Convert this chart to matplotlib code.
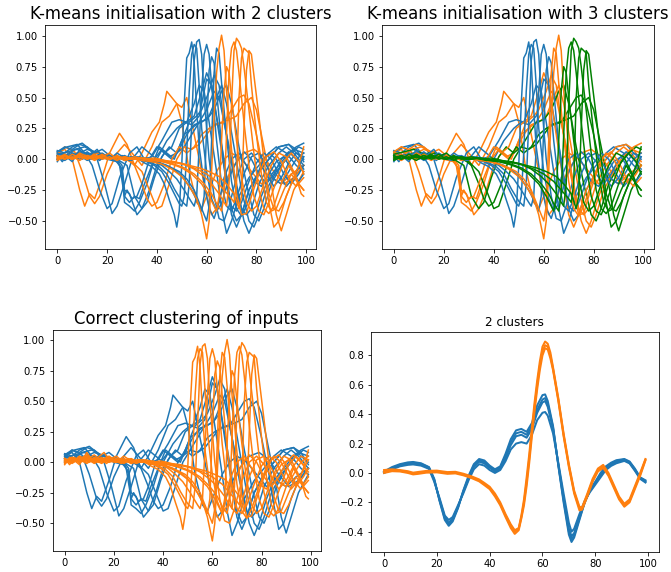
"""K-means clustering of shifted waveforms: two initialisations, the true
labels and the resulting 2-cluster barycentres."""

import matplotlib

matplotlib.use("Agg")
import matplotlib.pyplot as plt  # noqa: E402

# ---- input waveforms, (x, y) keypoints ----
# type A (first dip, then a medium peak)
wave_a = [
    [(0, 0.05), (3, 0.08), (6, 0.0), (9, -0.25), (11, -0.38), (13, -0.28), (15, -0.32), (18, -0.15),
     (21, 0.05), (25, 0.21), (28, 0.12), (31, -0.05), (34, 0.05), (38, 0.22), (41, 0.3), (43, 0.45),
     (44, 0.55), (46, 0.5), (48, 0.45), (50, 0.3), (53, -0.1), (56, -0.35), (58, -0.4), (61, -0.25),
     (64, -0.1), (67, 0.0), (70, 0.05), (74, 0.0), (78, -0.1), (82, -0.2), (86, -0.15), (90, -0.2),
     (94, -0.12), (99, -0.05)],
    [(0, 0.03), (3, 0.1), (7, 0.06), (10, -0.1), (13, -0.3), (15, -0.36), (17, -0.3), (20, -0.12),
     (24, 0.05), (27, 0.12), (30, 0.05), (34, -0.05), (38, 0.1), (42, 0.3), (45, 0.35), (48, 0.45),
     (50, 0.42), (52, 0.5), (54, 0.3), (57, 0.0), (60, -0.3), (62, -0.45), (64, -0.4), (67, -0.2),
     (71, -0.05), (75, 0.05), (79, 0.08), (83, 0.02), (87, -0.1), (91, -0.2), (95, -0.15), (99, -0.05)],
    [(0, 0.06), (4, 0.1), (8, 0.12), (11, 0.05), (14, -0.05), (17, -0.25), (20, -0.4), (22, -0.36),
     (25, -0.15), (29, 0.05), (32, 0.1), (35, 0.0), (38, 0.02), (42, 0.15), (46, 0.3), (49, 0.32),
     (52, 0.3), (55, 0.45), (57, 0.6), (59, 0.55), (61, 0.3), (64, -0.1), (66, -0.4), (68, -0.6),
     (70, -0.5), (73, -0.3), (77, -0.15), (81, -0.05), (85, 0.05), (88, 0.1), (92, 0.05), (96, -0.05),
     (99, -0.1)],
    [(0, 0.07), (3, 0.05), (6, 0.1), (10, 0.13), (13, 0.08), (16, 0.0), (19, -0.2), (22, -0.44),
     (24, -0.38), (27, -0.2), (30, 0.0), (34, 0.1), (37, 0.05), (40, 0.0), (44, 0.15), (48, 0.25),
     (51, 0.3), (54, 0.28), (57, 0.35), (60, 0.65), (62, 0.6), (64, 0.35), (67, 0.0), (70, -0.4),
     (72, -0.5), (74, -0.45), (77, -0.25), (81, -0.1), (85, 0.0), (89, 0.1), (93, 0.12), (96, 0.05),
     (99, 0.0)],
    [(0, 0.05), (3, 0.02), (7, 0.08), (11, 0.1), (15, 0.06), (19, 0.02), (23, 0.0), (25, -0.05),
     (27, -0.3), (29, -0.35), (31, -0.3), (33, -0.32), (35, -0.2), (38, -0.05), (41, 0.1), (44, 0.05),
     (47, 0.0), (50, 0.15), (53, 0.3), (56, 0.35), (58, 0.4), (61, 0.55), (63, 0.68), (65, 0.6),
     (67, 0.3), (70, 0.0), (73, -0.3), (75, -0.5), (77, -0.6), (79, -0.5), (82, -0.3), (85, -0.15),
     (89, -0.05), (93, 0.05), (96, 0.1), (99, 0.13)],
    [(0, 0.03), (4, 0.06), (8, 0.04), (12, 0.08), (16, 0.05), (20, 0.0), (24, -0.02), (26, -0.08),
     (27, -0.35), (29, -0.38), (31, -0.42), (33, -0.35), (36, -0.2), (39, 0.0), (42, 0.08), (45, 0.02),
     (48, 0.05), (51, 0.2), (54, 0.25), (57, 0.3), (60, 0.4), (63, 0.55), (65, 0.5), (68, 0.2),
     (71, -0.15), (74, -0.4), (76, -0.45), (78, -0.4), (81, -0.2), (85, -0.05), (89, 0.05), (92, 0.1),
     (95, 0.05), (99, -0.05)],
    [(0, 0.0), (4, 0.04), (8, 0.02), (12, 0.05), (16, 0.03), (20, 0.02), (24, 0.0), (26, -0.05),
     (27, -0.25), (29, -0.28), (32, -0.45), (34, -0.4), (37, -0.25), (40, -0.05), (43, 0.05), (46, 0.0),
     (49, 0.08), (52, 0.2), (55, 0.28), (58, 0.3), (61, 0.35), (64, 0.5), (66, 0.6), (68, 0.45),
     (71, 0.1), (74, -0.25), (77, -0.5), (79, -0.55), (81, -0.45), (84, -0.25), (88, -0.1), (92, 0.0),
     (95, 0.08), (99, 0.05)],
    [(0, 0.04), (4, 0.06), (8, 0.08), (12, 0.04), (16, 0.06), (20, 0.02), (24, 0.0), (28, -0.05),
     (31, -0.3), (34, -0.4), (36, -0.35), (39, -0.15), (42, 0.02), (45, 0.1), (48, 0.05), (51, 0.1),
     (54, 0.2), (57, 0.3), (60, 0.32), (63, 0.4), (66, 0.55), (68, 0.6), (70, 0.45), (73, 0.1),
     (76, -0.2), (79, -0.45), (81, -0.5), (83, -0.4), (86, -0.2), (90, -0.05), (94, 0.05), (97, 0.1),
     (99, 0.08)],
    [(0, 0.02), (4, 0.03), (8, 0.05), (12, 0.03), (16, 0.05), (20, 0.03), (24, 0.02), (28, 0.0),
     (31, -0.05), (34, -0.2), (36, -0.32), (38, -0.38), (40, -0.35), (43, -0.2), (46, 0.0), (49, 0.1),
     (52, 0.05), (55, 0.1), (58, 0.2), (61, 0.25), (64, 0.28), (67, 0.3), (70, 0.4), (73, 0.5),
     (75, 0.52), (77, 0.45), (80, 0.2), (83, -0.1), (85, -0.35), (87, -0.55), (89, -0.5), (92, -0.3),
     (95, -0.15), (99, -0.05)],
    [(0, 0.0), (5, 0.02), (10, 0.04), (15, 0.02), (20, 0.03), (25, 0.01), (30, -0.02), (34, -0.1),
     (37, -0.25), (40, -0.4), (42, -0.38), (45, -0.2), (48, 0.0), (51, 0.1), (54, 0.08), (57, 0.12),
     (60, 0.2), (63, 0.28), (66, 0.3), (69, 0.32), (72, 0.35), (75, 0.45), (78, 0.5), (80, 0.4),
     (83, 0.1), (86, -0.2), (88, -0.45), (90, -0.58), (92, -0.45), (95, -0.25), (99, -0.1)],
    [(0, 0.06), (3, 0.1), (6, 0.08), (9, 0.12), (12, 0.1), (15, 0.05), (18, 0.08), (21, 0.03),
     (24, 0.0), (26, -0.1), (27, -0.3), (28, -0.25), (30, -0.32), (32, -0.3), (34, -0.2), (37, 0.0),
     (40, 0.1), (43, 0.05), (46, 0.1), (49, 0.25), (52, 0.3), (55, 0.35), (58, 0.55), (60, 0.7),
     (62, 0.6), (65, 0.2), (68, -0.2), (70, -0.45), (72, -0.55), (74, -0.45), (77, -0.25), (81, -0.1),
     (85, 0.0), (89, 0.1), (93, 0.12), (96, 0.08), (99, -0.02)],
]

# type B (dip just before a tall peak)
wave_b = [
    [(0, 0.03), (2, -0.02), (4, 0.04), (6, 0.0), (9, 0.06), (11, 0.01), (14, 0.03), (17, -0.01),
     (20, 0.04), (23, 0.0), (26, 0.02), (29, -0.01), (32, 0.01), (35, -0.03), (38, -0.06), (41, -0.12),
     (43, -0.2), (45, -0.33), (47, -0.45), (48, -0.55), (49, -0.42), (50, -0.05), (51, 0.45), (52, 0.82),
     (53, 0.86), (54, 0.95), (55, 0.78), (56, 0.4), (57, 0.1), (59, -0.2), (61, -0.4), (63, -0.48),
     (65, -0.35), (67, -0.15), (70, 0.0), (73, 0.05), (76, -0.05), (79, -0.18), (82, -0.22), (85, -0.12),
     (88, -0.02), (91, 0.02), (94, -0.08), (97, -0.18), (99, -0.12)],
    [(0, -0.02), (2, 0.04), (5, 0.01), (8, 0.05), (10, 0.0), (13, 0.03), (16, 0.08), (18, 0.02),
     (21, 0.0), (24, 0.03), (27, -0.01), (30, 0.02), (33, 0.0), (36, -0.02), (39, -0.05), (42, -0.1),
     (45, -0.2), (47, -0.28), (49, -0.36), (50, -0.38), (51, -0.3), (52, 0.05), (53, 0.55), (54, 0.85),
     (55, 0.93), (56, 0.9), (57, 0.6), (58, 0.25), (60, -0.1), (62, -0.32), (64, -0.42), (66, -0.36),
     (69, -0.15), (72, -0.02), (75, 0.06), (78, 0.0), (81, -0.12), (84, -0.2), (87, -0.12), (90, 0.0),
     (93, 0.06), (96, 0.0), (99, -0.08)],
    [(0, 0.0), (3, 0.03), (6, -0.02), (9, 0.08), (11, 0.02), (14, 0.0), (17, 0.04), (20, 0.01),
     (23, -0.01), (26, 0.03), (29, 0.0), (32, 0.02), (35, -0.01), (38, -0.03), (41, -0.06), (44, -0.12),
     (47, -0.24), (50, -0.34), (52, -0.38), (53, -0.2), (54, 0.3), (55, 0.8), (56, 0.95), (57, 0.97),
     (58, 0.85), (59, 0.5), (61, 0.0), (63, -0.3), (65, -0.48), (67, -0.5), (69, -0.38), (72, -0.15),
     (75, 0.0), (78, 0.05), (81, -0.02), (84, -0.12), (87, -0.22), (90, -0.15), (93, -0.03), (96, 0.05),
     (99, 0.02)],
    [(0, 0.03), (3, 0.0), (6, 0.05), (9, 0.02), (12, 0.06), (15, 0.01), (18, 0.03), (21, 0.0),
     (24, 0.05), (27, 0.01), (30, 0.02), (33, 0.0), (36, 0.01), (39, -0.02), (42, -0.05), (45, -0.1),
     (48, -0.16), (51, -0.25), (54, -0.35), (55, -0.38), (56, -0.3), (57, 0.1), (58, 0.55), (59, 0.85),
     (60, 0.93), (61, 0.85), (62, 0.6), (64, 0.15), (66, -0.2), (68, -0.38), (70, -0.42), (72, -0.32),
     (75, -0.12), (78, 0.02), (81, 0.05), (84, -0.05), (87, -0.16), (90, -0.2), (93, -0.1), (96, 0.0),
     (99, 0.05)],
    [(0, 0.0), (3, 0.04), (6, 0.01), (9, 0.03), (12, -0.01), (15, 0.02), (18, 0.05), (21, 0.01),
     (24, 0.0), (27, 0.03), (30, 0.0), (33, 0.02), (36, 0.0), (40, -0.02), (44, -0.05), (48, -0.1),
     (51, -0.16), (54, -0.25), (56, -0.33), (58, -0.42), (59, -0.3), (60, 0.25), (61, 0.72), (62, 0.83),
     (63, 0.78), (64, 0.55), (66, 0.12), (68, -0.2), (70, -0.38), (72, -0.42), (74, -0.35), (77, -0.18),
     (80, -0.03), (83, 0.05), (86, 0.0), (89, -0.12), (92, -0.22), (95, -0.15), (98, -0.02), (99, 0.02)],
    [(0, 0.02), (3, -0.01), (6, 0.03), (9, 0.0), (12, 0.04), (15, 0.01), (18, 0.0), (21, 0.03),
     (24, 0.01), (27, 0.0), (30, 0.02), (33, 0.0), (37, -0.01), (41, -0.03), (45, -0.06), (49, -0.1),
     (52, -0.16), (55, -0.25), (58, -0.4), (60, -0.5), (61, -0.38), (62, 0.15), (63, 0.7), (64, 0.9),
     (65, 0.86), (66, 0.62), (68, 0.18), (70, -0.18), (72, -0.4), (74, -0.46), (76, -0.38), (79, -0.2),
     (82, -0.04), (85, 0.05), (88, 0.0), (91, -0.12), (94, -0.2), (97, -0.12), (99, -0.05)],
    [(0, 0.01), (3, 0.04), (6, 0.0), (9, 0.05), (12, 0.02), (15, -0.01), (18, 0.03), (21, 0.0),
     (24, 0.02), (27, -0.01), (30, 0.01), (34, -0.01), (38, -0.02), (42, -0.04), (46, -0.08), (50, -0.14),
     (53, -0.22), (56, -0.32), (58, -0.45), (60, -0.645), (61, -0.5), (62, -0.1), (63, 0.35), (64, 0.7),
     (65, 0.9), (66, 1.005), (67, 0.88), (68, 0.55), (70, 0.08), (72, -0.28), (74, -0.45), (76, -0.44),
     (78, -0.3), (81, -0.12), (84, 0.02), (87, 0.06), (90, -0.02), (93, -0.15), (96, -0.22), (99, -0.15)],
    [(0, -0.01), (3, 0.02), (6, 0.0), (9, 0.03), (12, 0.01), (15, 0.04), (18, 0.0), (21, 0.02),
     (24, -0.01), (27, 0.02), (30, 0.0), (34, 0.01), (38, -0.01), (42, -0.02), (46, -0.04), (50, -0.07),
     (54, -0.12), (58, -0.2), (61, -0.3), (63, -0.38), (64, -0.42), (65, -0.3), (66, 0.15), (67, 0.55),
     (68, 0.75), (69, 0.7), (70, 0.5), (72, 0.15), (74, -0.15), (76, -0.35), (78, -0.42), (80, -0.38),
     (83, -0.2), (86, -0.05), (89, 0.05), (92, 0.02), (95, -0.1), (97, -0.2), (99, -0.25)],
    [(0, 0.02), (3, 0.0), (6, 0.04), (9, 0.01), (12, 0.03), (15, 0.0), (18, 0.02), (21, 0.05),
     (24, 0.0), (27, 0.02), (31, 0.0), (35, 0.01), (39, -0.01), (43, -0.02), (47, -0.04), (51, -0.07),
     (55, -0.12), (59, -0.2), (62, -0.28), (64, -0.36), (66, -0.42), (67, -0.3), (68, 0.2), (69, 0.7),
     (70, 0.9), (71, 0.95), (72, 0.88), (73, 0.7), (75, 0.3), (77, -0.05), (79, -0.3), (81, -0.42),
     (83, -0.45), (85, -0.35), (88, -0.18), (91, -0.02), (94, 0.05), (97, -0.02), (99, -0.12)],
    [(0, 0.0), (3, 0.03), (6, 0.01), (9, 0.04), (12, 0.0), (15, 0.02), (18, 0.01), (21, 0.0),
     (24, 0.03), (27, 0.0), (31, 0.02), (35, 0.0), (39, 0.01), (43, -0.01), (47, -0.02), (51, -0.04),
     (55, -0.08), (59, -0.14), (62, -0.2), (65, -0.28), (67, -0.35), (68, -0.38), (69, -0.2), (70, 0.45),
     (71, 0.88), (72, 0.98), (73, 0.95), (74, 0.9), (75, 0.75), (77, 0.4), (79, 0.05), (81, -0.25),
     (83, -0.4), (85, -0.44), (87, -0.38), (90, -0.2), (93, -0.05), (96, -0.15), (98, -0.28), (99, -0.3)],
    [(0, 0.03), (3, 0.0), (6, 0.02), (9, -0.01), (12, 0.03), (15, 0.01), (18, 0.04), (21, 0.0),
     (24, 0.02), (28, 0.0), (32, 0.01), (36, 0.0), (40, -0.01), (44, -0.02), (48, -0.03), (52, -0.05),
     (56, -0.08), (60, -0.12), (64, -0.18), (67, -0.25), (70, -0.32), (71, -0.35), (72, -0.2), (73, 0.5),
     (74, 0.82), (75, 0.9), (76, 0.88), (77, 0.86), (78, 0.6), (80, 0.2), (82, -0.12), (84, -0.35),
     (86, -0.42), (88, -0.4), (91, -0.25), (94, -0.12), (97, -0.2), (99, -0.25)],
    [(0, 0.01), (3, 0.03), (6, 0.0), (9, 0.02), (12, 0.0), (15, 0.03), (18, 0.01), (21, 0.0),
     (25, 0.02), (29, 0.0), (33, 0.01), (37, -0.01), (41, 0.0), (45, -0.02), (49, -0.03), (53, -0.05),
     (57, -0.07), (61, -0.1), (65, -0.14), (68, -0.2), (71, -0.28), (73, -0.4), (74, -0.3), (75, 0.25),
     (76, 0.72), (77, 0.88), (78, 0.85), (79, 0.68), (81, 0.35), (83, 0.0), (85, -0.28), (87, -0.4),
     (89, -0.42), (91, -0.35), (94, -0.2), (97, -0.05), (99, 0.1)],
]

# cluster labels per panel, ordered as wave_a + wave_b
labels_km2 = [1, 1, 0, 0, 0, 0, 0, 0, 1, 1, 0,
              0, 0, 0, 0, 0, 0, 1, 1, 1, 1, 1, 1]
labels_km3 = [1, 1, 0, 0, 1, 1, 1, 2, 2, 2, 1,
              0, 0, 0, 0, 0, 1, 1, 2, 2, 2, 2, 2]
labels_true = [0] * len(wave_a) + [1] * len(wave_b)

# ---- barycentres of the final 2 clusters ----
bary_a_x = [0, 3, 6, 9, 11, 14, 17, 19, 21, 23, 24.5, 26, 28, 30, 32, 34, 36, 38, 40, 42, 44, 46, 48,
            50, 52, 54, 56, 58, 60, 61, 62, 64, 66, 68, 70, 71, 72, 74, 76, 78, 80, 82, 84, 86, 88,
            91, 93, 95, 97, 99]
bary_a_y = [
    [0.005, 0.03, 0.05, 0.062, 0.065, 0.058, 0.035, -0.05, -0.18, -0.3, -0.34, -0.31, -0.23, -0.13,
     -0.04, 0.04, 0.077, 0.065, 0.035, 0.01, 0.03, 0.1, 0.19, 0.25, 0.26, 0.24, 0.3, 0.41, 0.48, 0.49,
     0.45, 0.3, 0.06, -0.17, -0.38, -0.43, -0.41, -0.3, -0.2, -0.12, -0.07, -0.015, 0.03, 0.058, 0.075,
     0.089, 0.07, 0.02, -0.035, -0.06],
    [0.01, 0.04, 0.06, 0.072, 0.075, 0.066, 0.04, -0.04, -0.19, -0.32, -0.36, -0.33, -0.24, -0.12,
     -0.02, 0.06, 0.095, 0.085, 0.05, 0.025, 0.045, 0.13, 0.23, 0.29, 0.3, 0.28, 0.34, 0.46, 0.53, 0.535,
     0.49, 0.32, 0.05, -0.2, -0.42, -0.47, -0.44, -0.32, -0.2, -0.11, -0.06, 0.0, 0.045, 0.07, 0.087,
     0.095, 0.078, 0.03, -0.03, -0.05],
    [0.0, 0.025, 0.045, 0.055, 0.058, 0.05, 0.028, -0.06, -0.17, -0.29, -0.32, -0.3, -0.22, -0.14,
     -0.05, 0.025, 0.06, 0.05, 0.02, 0.0, 0.02, 0.08, 0.16, 0.2, 0.21, 0.2, 0.26, 0.36, 0.41, 0.415,
     0.39, 0.27, 0.07, -0.14, -0.34, -0.4, -0.38, -0.28, -0.19, -0.13, -0.08, -0.03, 0.02, 0.048, 0.066,
     0.082, 0.065, 0.015, -0.04, -0.065],
    [0.005, 0.032, 0.055, 0.066, 0.07, 0.062, 0.038, -0.045, -0.185, -0.31, -0.35, -0.32, -0.235,
     -0.125, -0.03, 0.05, 0.086, 0.075, 0.042, 0.017, 0.037, 0.115, 0.21, 0.27, 0.28, 0.26, 0.32, 0.43,
     0.5, 0.51, 0.47, 0.31, 0.055, -0.185, -0.4, -0.45, -0.425, -0.31, -0.2, -0.115, -0.065, -0.008,
     0.038, 0.064, 0.081, 0.092, 0.074, 0.025, -0.032, -0.055],
]
bary_b_x = [0, 3, 6, 9, 11, 13, 16, 20, 24, 27, 30, 33, 36, 38, 40, 42, 44, 46, 48, 49.5, 51, 52, 53,
            54, 55, 56, 57, 58, 59, 60, 61, 62, 63, 64, 66, 68, 70, 72, 74, 75, 77, 79, 81, 83, 85,
            87, 89, 91, 93, 95, 97, 99]
bary_b_y = [
    [0.01, 0.018, 0.015, 0.005, -0.005, 0.0, 0.008, 0.01, 0.0, 0.003, -0.01, -0.028, -0.05, -0.075,
     -0.1, -0.15, -0.21, -0.29, -0.36, -0.4, -0.38, -0.3, -0.2, -0.06, 0.1, 0.28, 0.45, 0.6, 0.73, 0.83,
     0.87, 0.86, 0.8, 0.71, 0.5, 0.26, 0.05, -0.13, -0.24, -0.24, -0.15, -0.05, 0.02, 0.045, -0.01,
     -0.09, -0.17, -0.22, -0.19, -0.1, -0.01, 0.09],
    [0.02, 0.025, 0.02, 0.012, 0.002, 0.007, 0.014, 0.016, 0.006, 0.008, -0.005, -0.022, -0.044,
     -0.068, -0.094, -0.14, -0.2, -0.28, -0.35, -0.39, -0.375, -0.29, -0.18, -0.03, 0.13, 0.31, 0.48,
     0.63, 0.76, 0.86, 0.895, 0.88, 0.82, 0.72, 0.51, 0.27, 0.06, -0.12, -0.23, -0.235, -0.14, -0.04,
     0.03, 0.055, 0.0, -0.08, -0.16, -0.21, -0.18, -0.09, 0.0, 0.095],
    [0.0, 0.012, 0.01, 0.0, -0.01, -0.006, 0.002, 0.004, -0.006, -0.003, -0.016, -0.034, -0.057,
     -0.083, -0.11, -0.16, -0.22, -0.3, -0.375, -0.415, -0.39, -0.31, -0.22, -0.09, 0.07, 0.25, 0.42,
     0.57, 0.7, 0.8, 0.85, 0.84, 0.78, 0.7, 0.49, 0.25, 0.04, -0.14, -0.255, -0.25, -0.16, -0.06, 0.01,
     0.035, -0.02, -0.1, -0.18, -0.23, -0.2, -0.11, -0.02, 0.085],
]

COLOURS = ["#1f77b4", "#ff7f0e", "#008000"]
W, H = 671, 572


def pixel_axes(fig, x0, y0, x1, y1):
    return fig.add_axes([x0 / W, 1 - y1 / H, (x1 - x0) / W, (y1 - y0) / H])


def draw_inputs(ax, labels, title):
    for curve, lab in zip(wave_a + wave_b, labels):
        xs, ys = zip(*curve)
        ax.plot(xs, ys, color=COLOURS[lab], lw=1.5)
    ax.set_title(title, fontsize=16.5)


def main() -> None:
    fig = plt.figure(figsize=(W / 72, H / 72), dpi=72)

    ax1 = pixel_axes(fig, 45, 25, 316, 249)
    draw_inputs(ax1, labels_km2, "K-means initialisation with 2 clusters")

    ax2 = pixel_axes(fig, 381.5, 25, 653.5, 249)
    draw_inputs(ax2, labels_km3, "K-means initialisation with 3 clusters")

    ax3 = pixel_axes(fig, 52.5, 329.5, 320.5, 551)
    draw_inputs(ax3, labels_true, "Correct clustering of inputs")

    ax4 = pixel_axes(fig, 371, 331.5, 658.5, 552)
    for ys in bary_a_y:
        ax4.plot(bary_a_x, ys, color=COLOURS[0], lw=2.0)
    for ys in bary_b_y:
        ax4.plot(bary_b_x, ys, color=COLOURS[1], lw=2.0)
    ax4.set_title("2 clusters", fontsize=12)

    for ax in (ax1, ax2, ax3):
        ax.set_yticks([-0.5, -0.25, 0.0, 0.25, 0.5, 0.75, 1.0])
    for ax in (ax1, ax2, ax3, ax4):
        ax.set_xticks([0, 20, 40, 60, 80, 100])
        ax.tick_params(labelsize=10)

    fig.savefig("out.png", dpi=72)


if __name__ == "__main__":
    main()
